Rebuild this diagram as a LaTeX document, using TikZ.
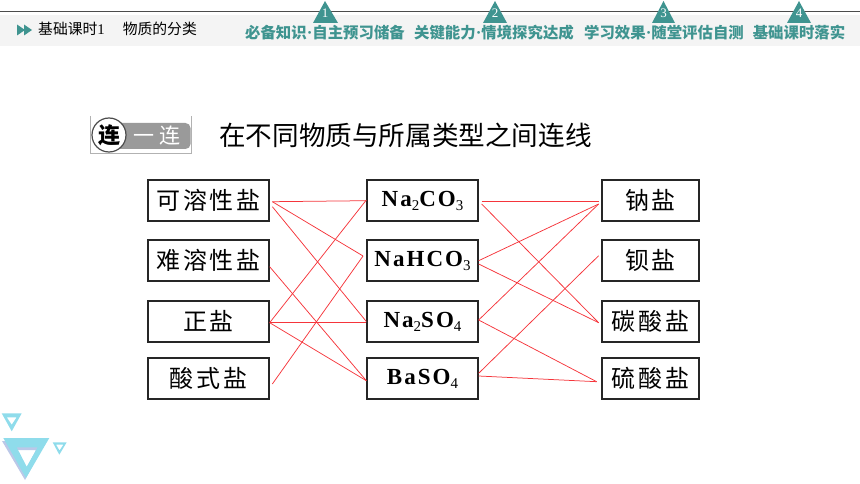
\documentclass[tikz,border=0pt]{standalone}
\usepackage{fontspec}
\usepackage{tikz}
\usetikzlibrary{positioning, shapes, arrows}
\setmainfont{Liberation Serif}
\newfontfamily\cjk{Noto Sans CJK SC}
\newfontfamily\cjkbox[LetterSpace=12]{Noto Sans CJK SC}
\newfontfamily\chembox[LetterSpace=9]{Liberation Serif}
\newcommand{\lowsub}[1]{\raisebox{-4pt}{\fontsize{15}{15}\selectfont\mdseries #1}}
\newcommand{\tabdot}{{\rmfamily\bfseries\fontsize{17}{15}\selectfont\textperiodcentered}}
\definecolor{tealhead}{HTML}{3F9490}
\definecolor{bandgray}{HTML}{F4F4F4}
\definecolor{skytri}{HTML}{8FDCEB}
\definecolor{shadetri}{HTML}{BBC8E8}
\definecolor{iconbar}{HTML}{9A9A9A}
\definecolor{linkred}{HTML}{F5353B}

\begin{document}
\begin{tikzpicture}[x=1pt, y=-1pt, node distance = 60pt, auto]
% Define block styles
\tikzstyle{saltbox} = [rectangle, draw=black!85, line width=1.3pt, fill=white,
    minimum width=121pt, minimum height=41pt, inner sep=0pt,
    font=\fontsize{24}{24}\selectfont\cjkbox]
\tikzstyle{chemical} = [saltbox, minimum width=111pt,
    font=\fontsize{23}{23}\selectfont\chembox\bfseries]
\tikzstyle{kind} = [saltbox, minimum width=97pt]
\tikzstyle{line} = [draw=linkred, line width=0.75pt]
\tikzstyle{tab} = [inner sep=0pt, text=tealhead,
    font=\fontsize{15.4}{15}\selectfont\cjk\bfseries]
\tikzstyle{tabmark} = [fill=tealhead]
\tikzstyle{tabnum} = [inner sep=0pt, text=white, font=\fontsize{13}{13}\selectfont]
\useasboundingbox (0,0) rectangle (860,484);
    % Header
    \fill [bandgray] (0,15) rectangle (860,46);
    \draw [black!70, line width=0.8pt] (0,11.5) -- (860,11.5);
    \fill [tabmark] (325,1) -- (338,23) -- (313,23) -- cycle;
    \fill [tabmark] (495,1) -- (507,23) -- (483,23) -- cycle;
    \fill [tabmark] (663.5,1) -- (675,23) -- (652,23) -- cycle;
    \fill [tabmark] (799,1) -- (811,23) -- (787,23) -- cycle;
    \node [tabnum] (num1) at (325,13.5) {1};
    \node [tabnum] (num2) at (495,13.5) {2};
    \node [tabnum] (num3) at (663.5,13.5) {3};
    \node [tabnum] (num4) at (799,13.5) {4};
    \fill [tealhead] (17,24.5) -- (25,30) -- (17,35.5) -- cycle;
    \fill [tealhead] (24,24.5) -- (32,30) -- (24,35.5) -- cycle;
    \node [inner sep=0pt, anchor=west, font=\fontsize{14.8}{15}\selectfont\cjk] (lesson) at (38,29)
        {基础课时{\rmfamily 1}\hspace{18pt}物质的分类};
    \node [tab] (tab1) at (325,33) {必备知识\tabdot 自主预习储备};
    \node [tab] (tab2) at (494,33) {关键能力\tabdot 情境探究达成};
    \node [tab] (tab3) at (664,33) {学习效果\tabdot 随堂评估自测};
    \node [tab] (tab4) at (799,33) {基础课时落实};
    % Title and badge
    \draw [black!30, line width=0.5pt] (90.5,116) -- (90.5,153.5) -- (191.5,153.5) -- (191.5,116);
    \fill [iconbar, rounded corners=5pt] (105,123) rectangle (190.5,149);
    \node [circle, draw=black!70, line width=1.2pt, fill=white, minimum size=34pt, inner sep=0pt,
        font=\fontsize{22}{22}\selectfont\cjk\bfseries] (badge) at (109,135) {连};
    \node [inner sep=0pt, text=white, font=\fontsize{21}{21}\selectfont\cjk] (badgetext) at (157,136) {一\hspace{5pt}连};
    \node [inner sep=0pt, anchor=west, font=\fontsize{26.6}{27}\selectfont\cjk] (title) at (219,135)
        {在不同物质与所属类型之间连线};
    % Place nodes
    \node [saltbox] (soluble) at (208.5,200.5) {可溶性盐};
    \node [saltbox, below of=soluble] (insoluble) {难溶性盐};
    \node [saltbox, below of=insoluble, node distance=61pt] (normal) {正盐};
    \node [saltbox, below of=normal, node distance=57pt] (acidic) {酸式盐};
    \node [chemical, right of=soluble, node distance=214pt] (carbonate) {Na\lowsub{2}CO\lowsub{3}};
    \node [chemical, right of=insoluble, node distance=214pt] (bicarbonate) {NaHCO\lowsub{3}};
    \node [chemical, right of=normal, node distance=214pt] (sulfate) {Na\lowsub{2}SO\lowsub{4}};
    \node [chemical, right of=acidic, node distance=214pt] (barium) {BaSO\lowsub{4}};
    \node [kind, right of=carbonate, node distance=228pt] (sodium) {钠盐};
    \node [kind, right of=bicarbonate, node distance=228pt] (bariumsalt) {钡盐};
    \node [kind, right of=sulfate, node distance=228pt] (carbsalt) {碳酸盐};
    \node [kind, right of=barium, node distance=228pt] (sulfsalt) {硫酸盐};
    % Left links
    \path [line] ([shift={(2.7pt,-1.2pt)}]soluble.east) -- ([yshift=-0.2pt]carbonate.west);
    \path [line] ([shift={(2.7pt,-1.2pt)}]soluble.east) -- ([shift={(-3.3pt,4.5pt)}]bicarbonate.west);
    \path [line] ([shift={(2.7pt,-6.2pt)}]soluble.east) -- (sulfate.west);
    \path [line] ([yshift=-6.2pt]insoluble.east) -- ([yshift=-2.2pt]barium.west);
    \path [line] ([yshift=-1.2pt]normal.east) -- ([yshift=0.5pt]carbonate.west);
    \path [line] ([yshift=-1.2pt]normal.east) -- ([yshift=-1.2pt]sulfate.west);
    \path [line] ([yshift=-1.2pt]normal.east) -- ([yshift=-2.2pt]barium.west);
    \path [line] ([shift={(2.7pt,-5.5pt)}]acidic.east) -- ([shift={(-3.3pt,4.5pt)}]bicarbonate.west);
    % Right links
    \path [line] ([shift={(3pt,-1.2pt)}]carbonate.east) -- ([shift={(-2.7pt,-1.2pt)}]sodium.west);
    \path [line] ([shift={(3pt,-3.5pt)}]carbonate.east) -- ([shift={(-2.7pt,-1.2pt)}]carbsalt.west);
    \path [line] ([yshift=-0.2pt]bicarbonate.east) -- ([shift={(-2.7pt,-3.5pt)}]sodium.west);
    \path [line] ([yshift=-3.5pt]bicarbonate.east) -- ([shift={(-2.7pt,-1.2pt)}]carbsalt.west);
    \path [line] ([yshift=1.5pt]sulfate.east) -- ([shift={(-2.7pt,-3.5pt)}]sodium.west);
    \path [line] ([yshift=1.5pt]sulfate.east) -- ([shift={(-4.7pt,-3.2pt)}]sulfsalt.west);
    \path [line] ([yshift=5.2pt]barium.east) -- ([shift={(-2.7pt,4.8pt)}]bariumsalt.west);
    \path [line] ([yshift=2.5pt]barium.east) -- ([shift={(-4.7pt,-3.2pt)}]sulfsalt.west);
    % Corner marks
    \fill [shadetri, even odd rule] (2,441) -- (46,441) -- (25,480) -- cycle
        (15,450) -- (36,450) -- (25,471) -- cycle;
    \fill [skytri, even odd rule] (3.3,438) -- (49.3,438) -- (26,478) -- cycle
        (16.7,447.3) -- (37.7,447.3) -- (26.7,466.7) -- cycle;
    \fill [skytri, even odd rule] (1.7,413.3) -- (21.7,413.3) -- (11.7,431.3) -- cycle
        (6.7,417.3) -- (16.7,417.3) -- (11.7,424.7) -- cycle;
    \fill [skytri, even odd rule] (52.7,442.3) -- (66.7,442.3) -- (59.3,454.7) -- cycle
        (56,444.5) -- (63.5,444.5) -- (59.5,450.5) -- cycle;
\end{tikzpicture}
\end{document}
